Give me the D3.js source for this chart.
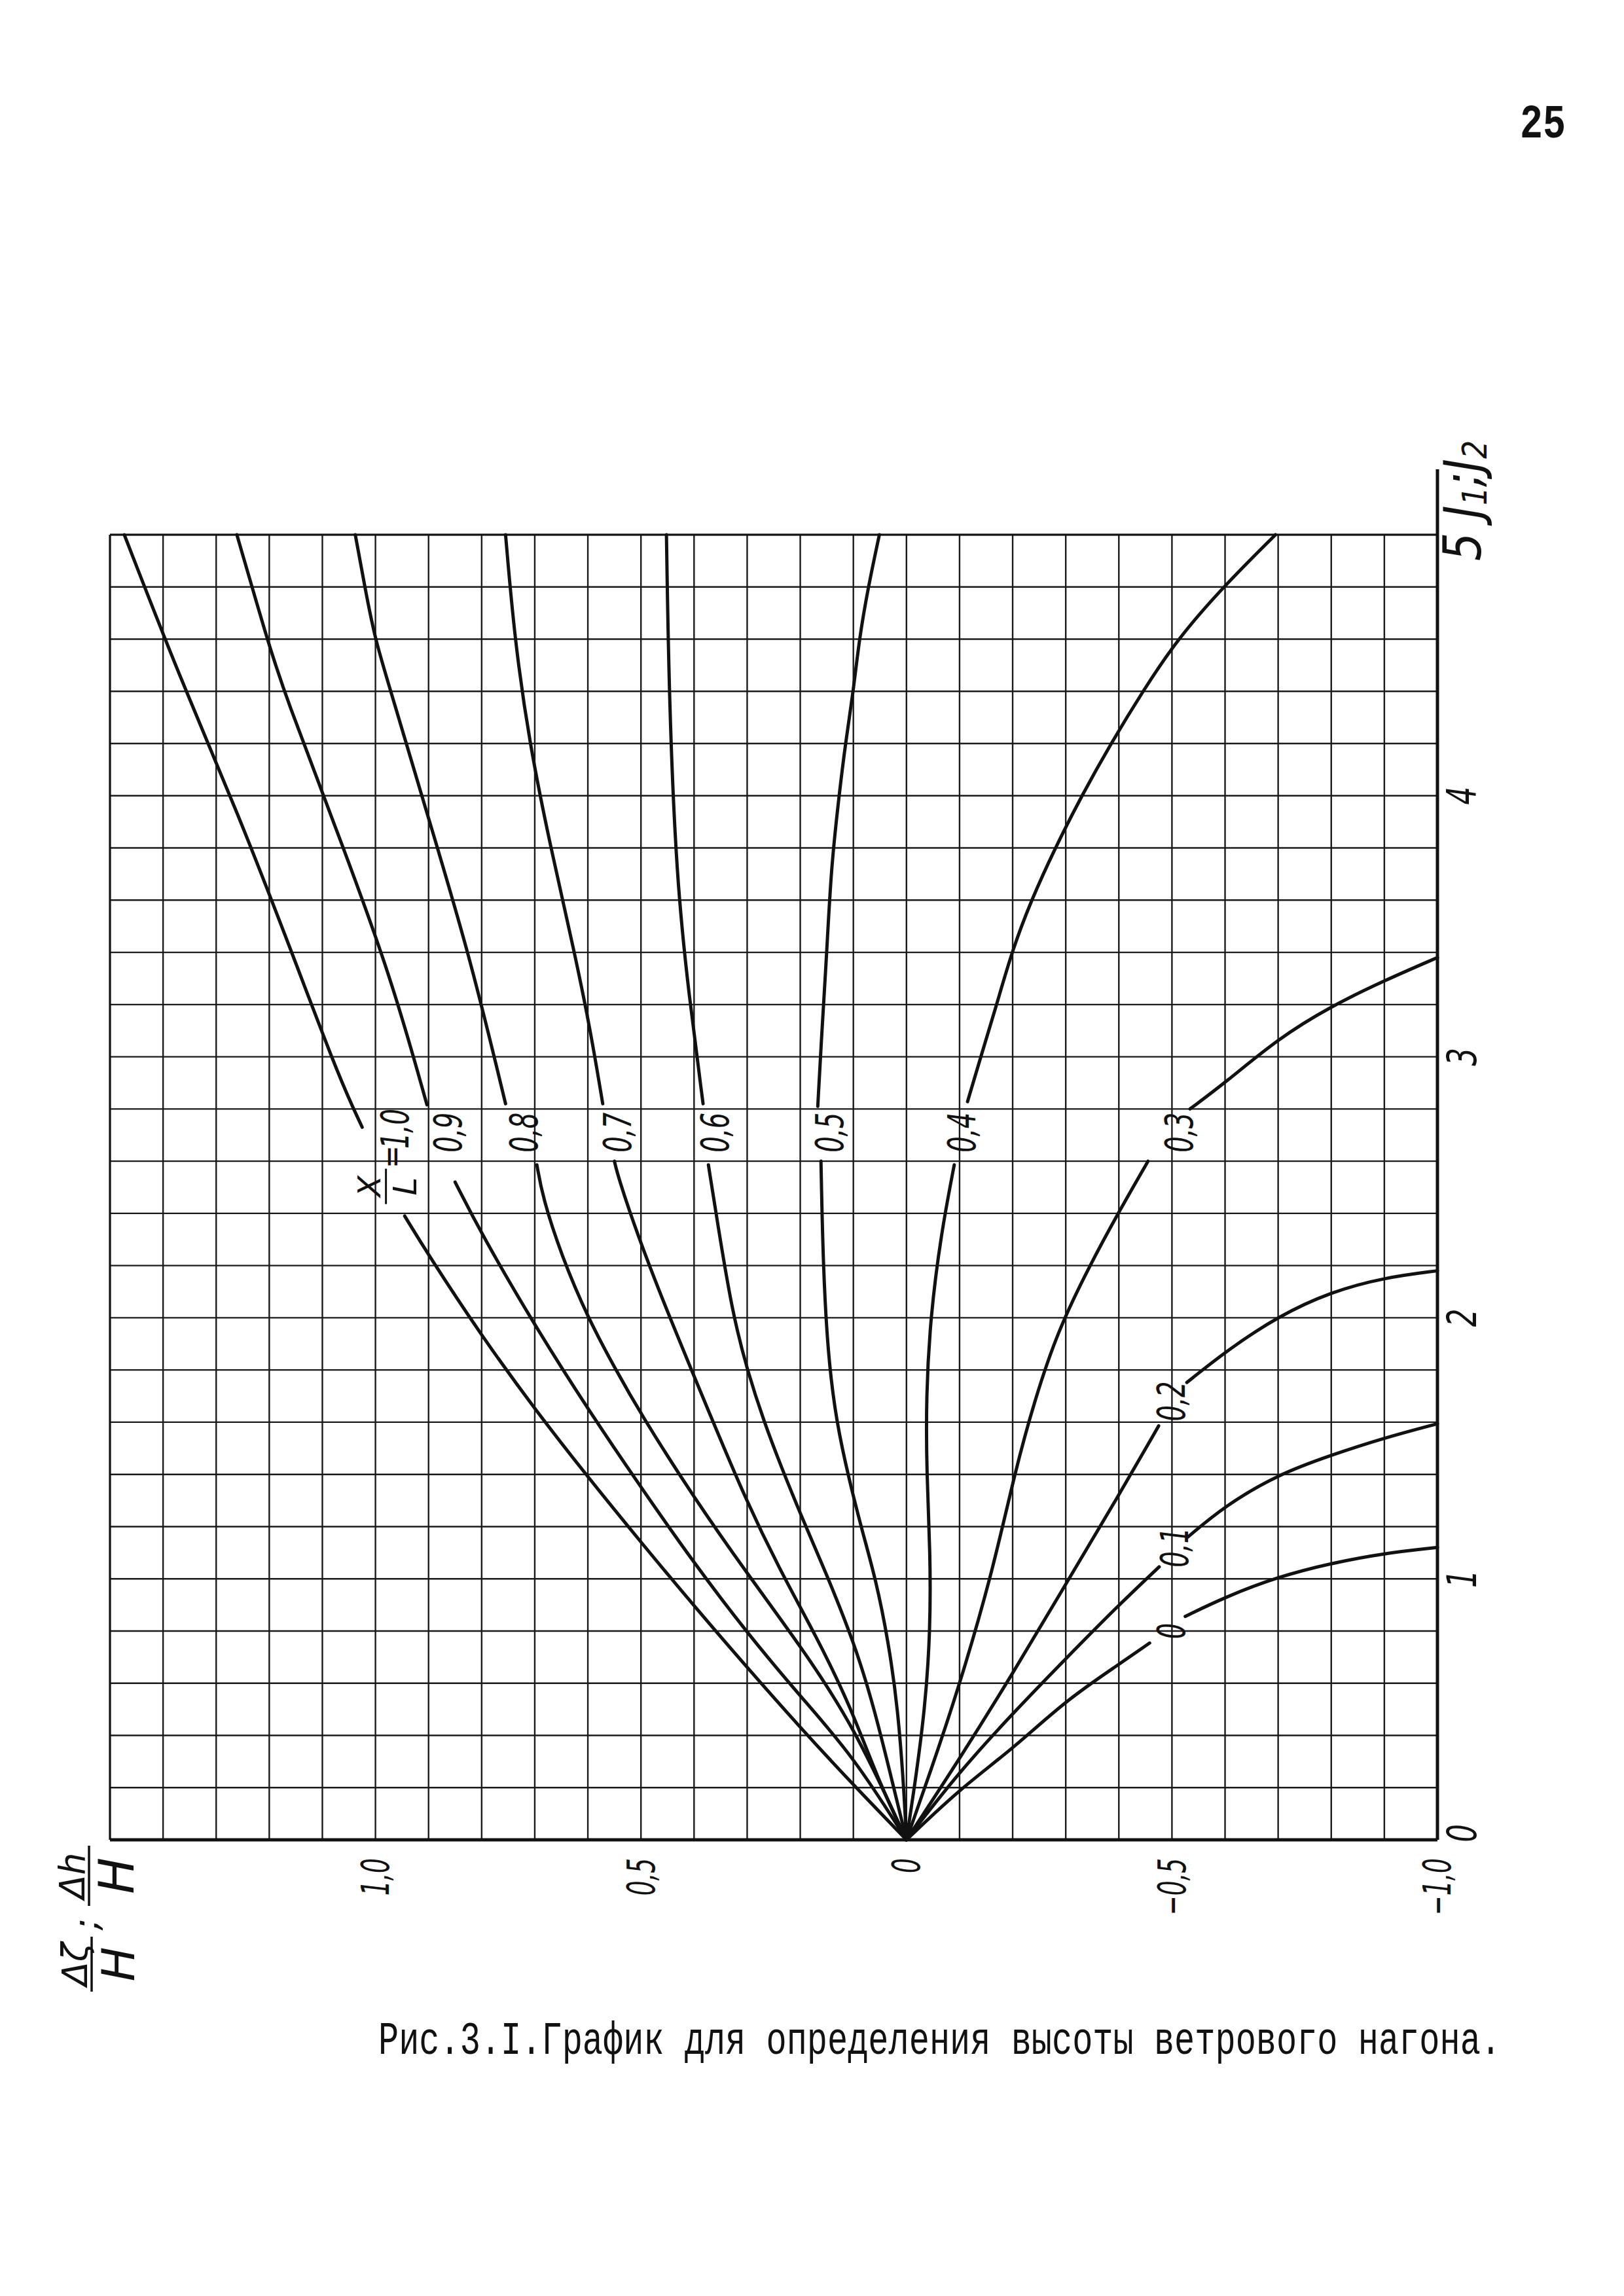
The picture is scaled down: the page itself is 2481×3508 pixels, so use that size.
<!DOCTYPE html>
<html>
<head>
<meta charset="utf-8">
<script src="https://cdn.jsdelivr.net/npm/d3@7"></script>
<style>
  html, body { margin: 0; padding: 0; background: #ffffff; }
  svg { display: block; }
</style>
</head>
<body>
<svg id="chart" width="2481" height="3508"></svg>
<script>
// ---------------- DATA ----------------
// Each point: [Δh/H , J1;J2]; null separates the two drawn pieces of a curve (gap left for its label)
const curveXL10 = [[0,0],[0.1,0.21],[0.2,0.43],[0.3,0.66],[0.4,0.896],[0.5,1.14],[0.6,1.39],[0.7,1.65],[0.8,1.93],[0.9,2.24],[0.945,2.39],null,[1.025,2.73],[1.067,2.912],[1.15,3.36],[1.26,3.94],[1.37,4.46],[1.473,5.0]];
const curveXL09 = [[0,0],[0.1,0.32],[0.2,0.55],[0.3,0.792],[0.4,1.06],[0.5,1.35],[0.6,1.65],[0.7,1.97],[0.8,2.32],[0.85,2.52],null,[0.903,2.816],[0.97,3.3],[1.06,3.8],[1.173,4.4],[1.204,4.6],[1.261,5.0]];
const curveXL08 = [[0,0],[0.1,0.44],[0.2,0.744],[0.3,1.02],[0.4,1.31],[0.5,1.63],[0.55,1.81],[0.6,2.0],[0.65,2.24],[0.685,2.46],[0.696,2.586],null,[0.755,2.82],[0.824,3.4],[0.907,3.96],[0.971,4.4],[1.001,4.6],[1.02,4.8],[1.038,5.0]];
const curveXL07 = [[0,0],[0.05,0.212],[0.107,0.52],[0.17,0.78],[0.24,1.04],[0.305,1.314],[0.368,1.62],[0.45,2.02],[0.507,2.32],[0.543,2.54],[0.55,2.6],null,[0.572,2.82],[0.595,3.1],[0.625,3.4],[0.67,3.8],[0.71,4.2],[0.738,4.6],[0.755,5.0]];
const curveXL06 = [[0,0],[0.024,0.2],[0.06,0.5],[0.098,0.754],[0.155,1.04],[0.198,1.24],[0.236,1.43],[0.268,1.6],[0.3,1.8],[0.328,2.02],[0.356,2.366],[0.373,2.586],null,[0.383,2.82],[0.41,3.24],[0.433,3.68],[0.447,4.36],[0.452,5.0]];
const curveXL05 = [[0,0],[0.005,0.2],[0.016,0.5],[0.034,0.76],[0.058,1.0],[0.083,1.18],[0.108,1.38],[0.132,1.6],[0.148,1.86],[0.157,2.2],[0.161,2.6],null,[0.167,2.81],[0.161,3.04],[0.15,3.4],[0.142,3.72],[0.127,4.0],[0.115,4.2],[0.1,4.4],[0.089,4.6],[0.072,4.8],[0.051,5.0]];
const curveXL04 = [[0,0],[-0.015,0.2],[-0.035,0.5],[-0.045,0.8],[-0.045,1.1],[-0.038,1.4],[-0.037,1.7],[-0.045,2.0],[-0.065,2.32],[-0.09,2.586],null,[-0.115,2.828],[-0.14,3.0],[-0.17,3.2],[-0.198,3.4],[-0.235,3.6],[-0.28,3.8],[-0.33,4.0],[-0.385,4.2],[-0.445,4.4],[-0.51,4.6],[-0.6,4.808],[-0.695,5.0]];
const curveXL03 = [[0,0],[-0.045,0.26],[-0.095,0.56],[-0.16,1.008],[-0.205,1.416],[-0.242,1.688],[-0.285,1.95],[-0.345,2.2],[-0.4,2.406],[-0.455,2.6],null,[-0.534,2.8],[-0.6,2.9],[-0.7,3.07],[-0.8,3.194],[-0.9,3.292],[-1.0,3.38]];
const curveXL02 = [[0,0],[-0.1,0.31],[-0.2,0.636],[-0.3,0.98],[-0.4,1.32],[-0.475,1.586],null,[-0.528,1.752],[-0.603,1.874],[-0.7,2.006],[-0.8,2.1],[-0.9,2.154],[-1.0,2.18]];
const curveXL01 = [[0,0],[-0.1,0.262],[-0.2,0.484],[-0.3,0.694],[-0.4,0.9],[-0.476,1.046],null,[-0.53,1.16],[-0.6,1.28],[-0.7,1.4],[-0.8,1.474],[-0.9,1.54],[-1.0,1.594]];
const curveXL00 = [[0,0],[-0.1,0.194],[-0.2,0.348],[-0.3,0.534],[-0.4,0.672],[-0.458,0.754],null,[-0.525,0.856],[-0.6,0.93],[-0.7,1.008],[-0.8,1.06],[-0.9,1.098],[-1.0,1.12]];

const curveNames = ["1,0","0,9","0,8","0,7","0,6","0,5","0,4","0,3","0,2","0,1","0"];
const labelAtD   = [0.963, 0.863, 0.72, 0.544, 0.36, 0.144, -0.105, -0.514, -0.5, -0.505, -0.5];
const labelAtJ   = [2.724, 2.71, 2.71, 2.71, 2.71, 2.71, 2.71, 2.71, 1.68, 1.12, 0.8];

const dhTicks      = [1.0, 0.5, 0, -0.5, -1.0];
const dhTickLabels = ["1,0", "0,5", "0", "−0,5", "−1,0"];
const jTicks       = [0, 1, 2, 3, 4];
const jTickLabels  = ["0", "1", "2", "3", "4"];

const pageNumber = "25";
const captionText = "Рис.3.I.График для определения высоты ветрового нагона.";

// ---------------- LAYOUT ----------------
const svg = d3.select("#chart");
svg.append("rect").attr("width", 2481).attr("height", 3508).attr("fill", "#ffffff");

const L = 168, R = 2196, T = 817, B = 2811;
const x = d3.scaleLinear().domain([1.5, -1.0]).range([L, R]);   // Δh/H grows to the left
const y = d3.scaleLinear().domain([0, 5]).range([B, T]);         // J grows upward

const ink = "#111111";
const handFont = "'DejaVu Sans', 'Liberation Sans', sans-serif";

// grid
const gridD = d3.range(26).map(k => +(1.5 - k * 0.1).toFixed(2));
const gridJ = d3.range(26).map(k => +(k * 0.2).toFixed(2));
const grid = svg.append("g").attr("stroke", "#1a1a1a").attr("stroke-width", 2.4);
grid.selectAll("line.v").data(gridD).join("line")
  .attr("x1", d => x(d)).attr("x2", d => x(d))
  .attr("y1", y(5)).attr("y2", y(0));
grid.selectAll("line.h").data(gridJ).join("line")
  .attr("x1", x(1.5)).attr("x2", x(-1.0))
  .attr("y1", d => y(d)).attr("y2", d => y(d));

// frame: heavier right (J axis, extended above) and bottom (Δh/H axis)
svg.append("line").attr("x1", x(-1.0)).attr("x2", x(-1.0))
  .attr("y1", y(5) - 100).attr("y2", y(0))
  .attr("stroke", ink).attr("stroke-width", 5);
svg.append("line").attr("x1", x(1.5)).attr("x2", x(-1.0))
  .attr("y1", y(0)).attr("y2", y(0))
  .attr("stroke", ink).attr("stroke-width", 5);
svg.append("line").attr("x1", x(1.5)).attr("x2", x(1.5))
  .attr("y1", y(5)).attr("y2", y(0))
  .attr("stroke", ink).attr("stroke-width", 3);
svg.append("line").attr("x1", x(1.5)).attr("x2", x(-1.0))
  .attr("y1", y(5)).attr("y2", y(5))
  .attr("stroke", ink).attr("stroke-width", 3);

// curves
const curves = [curveXL10, curveXL09, curveXL08, curveXL07, curveXL06, curveXL05,
                curveXL04, curveXL03, curveXL02, curveXL01, curveXL00];
const line = d3.line()
  .defined(p => p !== null)
  .x(p => x(p[0])).y(p => y(p[1]))
  .curve(d3.curveBasis);
svg.append("g").selectAll("path").data(curves).join("path")
  .attr("d", line)
  .attr("fill", "none").attr("stroke", ink)
  .attr("stroke-width", 5).attr("stroke-linecap", "round").attr("stroke-linejoin", "round");

// rotated text helper (text reads bottom-to-top)
function rotText(px, py, str, opt) {
  const o = Object.assign({ size: 58, squeeze: 0.66, anchor: "middle", base: "central", italic: true }, opt || {});
  return svg.append("text")
    .attr("transform", `translate(${px},${py}) rotate(-90) scale(${o.squeeze},1)`)
    .attr("text-anchor", o.anchor)
    .attr("dominant-baseline", o.base)
    .attr("font-family", handFont)
    .attr("font-style", o.italic ? "italic" : "normal")
    .attr("font-size", o.size)
    .attr("fill", ink)
    .text(str);
}

// curve labels
curveNames.forEach((name, i) => {
  rotText(x(labelAtD[i]), y(labelAtJ[i]), name);
});

// "X/L =" in front of the first label
{
  const px = x(labelAtD[0]), py = y(labelAtJ[0]);
  rotText(px - 6, py + 43, "=", { size: 52, squeeze: 0.8 });
  const g = svg.append("g").attr("transform", `translate(${px - 14},${py + 88}) rotate(-90)`);
  g.append("line").attr("x1", -27).attr("x2", 27).attr("y1", 0).attr("y2", 0)
    .attr("stroke", ink).attr("stroke-width", 3);
  g.append("text").attr("x", 0).attr("y", -9).attr("text-anchor", "middle")
    .attr("font-family", handFont).attr("font-style", "italic").attr("font-size", 48)
    .attr("fill", ink).text("X");
  g.append("text").attr("x", 0).attr("y", 46).attr("text-anchor", "middle")
    .attr("font-family", handFont).attr("font-style", "italic").attr("font-size", 50)
    .attr("fill", ink).text("L");
}

// bottom tick labels (Δh/H)
dhTicks.forEach((v, i) => {
  rotText(x(v), y(0) + 28, dhTickLabels[i], { anchor: "end", size: 58, squeeze: 0.62 });
});

// right tick labels (J)
jTicks.forEach((v, i) => {
  rotText(x(-1.0) + 38, y(v) - (v === 0 ? 10 : 0), jTickLabels[i], { size: 62, squeeze: 0.7 });
});
// "5 J1;J2" at the top of the J axis
{
  const t = svg.append("text")
    .attr("transform", `translate(${x(-1.0) + 38},${y(5) + 40}) rotate(-90) scale(0.85,1)`)
    .attr("text-anchor", "start").attr("dominant-baseline", "central")
    .attr("font-family", handFont).attr("font-style", "italic").attr("font-size", 80)
    .attr("fill", ink);
  t.append("tspan").text("5 J");
  t.append("tspan").attr("font-size", 52).attr("baseline-shift", "-18").text("1");
  t.append("tspan").text(";J");
  t.append("tspan").attr("font-size", 52).attr("baseline-shift", "-18").text("2");
}

// axis title Δζ/H ; Δh/H (rotated fractions)
function rotFraction(px, py, num, den, half, numSize, denSize) {
  const g = svg.append("g").attr("transform", `translate(${px},${py}) rotate(-90)`);
  g.append("line").attr("x1", -half).attr("x2", half).attr("y1", 0).attr("y2", 0)
    .attr("stroke", ink).attr("stroke-width", 3.5);
  g.append("text").attr("x", 0).attr("y", -7).attr("text-anchor", "middle")
    .attr("font-family", handFont).attr("font-style", "italic").attr("font-size", numSize)
    .attr("fill", ink).text(num);
  g.append("text").attr("x", 0).attr("y", denSize * 0.73 + 14).attr("text-anchor", "middle")
    .attr("font-family", handFont).attr("font-style", "italic").attr("font-size", denSize)
    .attr("fill", ink).text(den);
}
rotFraction(136, 2866, "Δh", "H", 46, 54, 74);
rotFraction(140, 3001, "Δζ", "H", 42, 54, 70);
rotText(136, 2940, ";", { size: 56, squeeze: 1, base: "middle" });

// page number
svg.append("text").attr("x", 2357).attr("y", 210).attr("text-anchor", "middle")
  .attr("font-family", "'Liberation Mono', 'DejaVu Sans Mono', monospace")
  .attr("font-weight", "bold").attr("font-size", 72)
  .attr("textLength", 70).attr("lengthAdjust", "spacingAndGlyphs")
  .attr("fill", ink).text(pageNumber);

// caption (typewriter)
svg.append("g").attr("transform", "translate(578,3138) scale(1,1.38)")
  .append("text").attr("x", 0).attr("y", 0)
  .attr("font-family", "'Liberation Mono', 'DejaVu Sans Mono', monospace")
  .attr("font-size", 51)
  .attr("textLength", 1715).attr("lengthAdjust", "spacingAndGlyphs")
  .attr("fill", ink).text(captionText);
</script>
</body>
</html>
